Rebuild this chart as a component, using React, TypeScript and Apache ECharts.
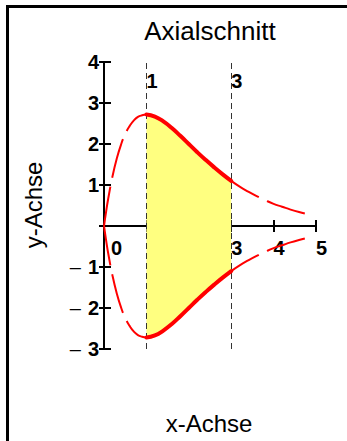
import { useEffect, useRef } from 'react';
import * as echarts from 'echarts';

// Upper contour (lower contour is its mirror image)
const xLeft = [0, 0.05, 0.1, 0.2, 0.3, 0.4, 0.5, 0.6, 0.7, 0.8, 0.9, 1.0];
const yLeft = [0, 0.35, 0.67, 1.21, 1.64, 1.98, 2.24, 2.43, 2.57, 2.66, 2.7, 2.72];
const xMid = [1.0, 1.2, 1.4, 1.6, 1.8, 2.0, 2.2, 2.4, 2.6, 2.8, 3.0];
const yMid = [2.72, 2.67, 2.55, 2.39, 2.2, 2.0, 1.8, 1.61, 1.43, 1.26, 1.1];
const xRight = [3.0, 3.2, 3.4, 3.6, 3.8, 4.0, 4.2, 4.4, 4.6, 4.8];
const yRight = [1.1, 0.96, 0.84, 0.73, 0.63, 0.54, 0.47, 0.4, 0.34, 0.29];

const markerX = [1, 3];
const xBottomLabels = ['0', '', '', '3', '4', '5'];
const xTopLabels = ['', '1', '', '3', '', ''];
const yLabels: Record<string, string> = {
  '4': '4', '3': '3', '2': '2', '1': '1', '0': '', '-1': '1', '-2': '2', '-3': '3',
};

const FONT = '"Liberation Sans", Arial, Helvetica, sans-serif';

const pairs = (xs: number[], ys: number[], sign = 1) => xs.map((x, i) => [x, sign * ys[i]]);

export default function App() {
  const ref = useRef<HTMLDivElement>(null);
  useEffect(() => {
    if (!ref.current) return;
    const chart = echarts.init(ref.current, undefined, { renderer: 'svg' });
    const red = '#ff0000';
    const dashed = { color: red, width: 2, type: [40, 9] as any, cap: 'butt' };
    const solid = { color: red, width: 4, cap: 'round' };
    const curve = (data: number[][], ls: any, extra: any = {}) => ({
      type: 'line', data, smooth: true, showSymbol: false, symbol: 'none', z: 6,
      lineStyle: ls, silent: true, ...extra,
    });
    const area = (data: number[][]) => ({
      type: 'line', data, smooth: true, showSymbol: false, symbol: 'none', z: 1,
      lineStyle: { width: 0 }, areaStyle: { color: '#ffff80', opacity: 1 }, silent: true,
    });
    const tickStyle = { color: '#000', width: 2 };
    const baseLabel = { color: '#000', fontFamily: FONT, fontSize: 20, fontWeight: 'bold' };
    const hiddenX = { type: 'value', min: 0, max: 5, interval: 1 };
    chart.setOption({
      animation: false,
      title: {
        text: 'Axialschnitt', left: 205, top: 13, textAlign: 'center',
        textStyle: { fontFamily: FONT, fontSize: 26, fontWeight: 'normal', color: '#000' },
      },
      grid: { left: 104, right: 31, top: 62, bottom: 92, containLabel: false, outerBoundsMode: 'none' },
      xAxis: [
        {
          ...hiddenX, position: 'bottom',
          axisLine: { show: true, onZero: true, lineStyle: tickStyle },
          axisTick: { show: true, length: 6, lineStyle: tickStyle },
          splitLine: { show: false }, axisLabel: { show: false },
        },
        {
          ...hiddenX, position: 'top',
          axisLine: { show: false }, axisTick: { show: false }, splitLine: { show: false },
          axisLabel: {
            ...baseLabel, inside: true, margin: 9, align: 'left', showMinLabel: true, showMaxLabel: true,
            formatter: (v: number) => xTopLabels[Math.round(v)] || '',
          },
        },
        {
          // upper half of the crossing ticks on the x-axis line (y = 0 lies 123px above the grid bottom)
          ...hiddenX, position: 'bottom', offset: -123,
          axisLine: { show: false, onZero: false },
          axisTick: { show: true, inside: true, length: 6, lineStyle: tickStyle },
          splitLine: { show: false }, axisLabel: { show: false },
        },
        {
          // bottom tick labels, placed just below the x-axis line (y = 0)
          ...hiddenX, position: 'top',
          axisLine: { show: false }, axisTick: { show: false }, splitLine: { show: false },
          axisLabel: {
            ...baseLabel, inside: true, margin: 176, align: 'left', showMinLabel: true, showMaxLabel: true,
            formatter: (v: number) => {
              const t = xBottomLabels[Math.round(v)] || '';
              if (!t) return '';
              return v === 0 ? '{z|' + t + '}' : t;
            },
            rich: { z: { ...baseLabel, padding: [0, 0, 0, 7] } },
          },
        },
      ],
      yAxis: [
        {
          type: 'value', min: -3, max: 4, interval: 1, position: 'left',
          axisLine: { show: true, onZero: true, lineStyle: tickStyle },
          axisTick: { show: true, length: 5, lineStyle: tickStyle },
          splitLine: { show: false },
          axisLabel: {
            ...baseLabel, margin: 5, showMinLabel: true, showMaxLabel: true,
            formatter: (v: number) => {
              const t = yLabels[String(Math.round(v))] || '';
              if (!t) return '';
              return v < 0 ? '{m|–}{d|' + t + '}' : t;
            },
            rich: {
              m: { ...baseLabel, fontWeight: 'normal', padding: [0, 7, 0, 0] },
              d: { ...baseLabel },
            },
          },
        },
        {
          type: 'value', min: -3, max: 4, interval: 1, position: 'left',
          axisLine: { show: false },
          axisTick: { show: true, inside: true, length: 7, lineStyle: tickStyle },
          splitLine: { show: false }, axisLabel: { show: false },
        },
      ],
      graphic: [
        { type: 'line', shape: { x1: 6, y1: 6.5, x2: 347, y2: 6.5 }, style: { stroke: '#000', lineWidth: 3 } },
        { type: 'line', shape: { x1: 7.5, y1: 5, x2: 7.5, y2: 441 }, style: { stroke: '#000', lineWidth: 3 } },
        {
          type: 'text', x: 209, y: 423,
          style: { text: 'x-Achse', font: `24px ${FONT}`, fill: '#000', textAlign: 'center', textVerticalAlign: 'middle' },
        },
        {
          type: 'text', x: 33, y: 205, rotation: Math.PI / 2,
          style: { text: 'y-Achse', font: `24px ${FONT}`, fill: '#000', textAlign: 'center', textVerticalAlign: 'middle' },
        },
      ],
      series: [
        area(pairs(xMid, yMid)),
        {
          ...area(pairs(xMid, yMid, -1)),
          markLine: {
            silent: true, symbol: ['none', 'none'], z: 3, label: { show: false },
            lineStyle: { color: '#333', width: 1, type: [6, 4] },
            data: markerX.map((x) => ({ xAxis: x })),
          },
        },
        curve(pairs(xLeft, yLeft), dashed),
        curve(pairs(xLeft, yLeft, -1), dashed),
        curve(pairs(xRight, yRight), { ...dashed, dashOffset: 8 }),
        curve(pairs(xRight, yRight, -1), { ...dashed, dashOffset: 8 }),
        curve(pairs(xMid, yMid), solid),
        curve(pairs(xMid, yMid, -1), solid),
      ],
    });
    return () => chart.dispose();
  }, []);
  return <div ref={ref} style={{ position: 'absolute', left: 0, top: 0, width: 347, height: 441 }} />;
}
